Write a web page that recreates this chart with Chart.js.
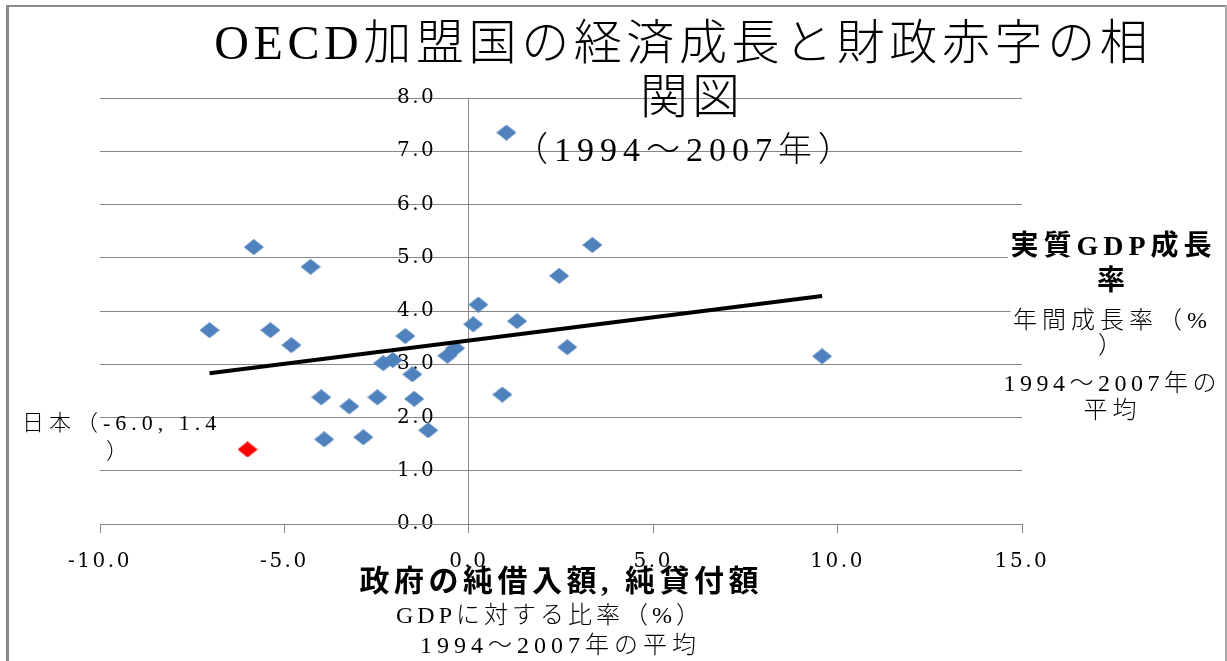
<!DOCTYPE html>
<html>
<head>
<meta charset="utf-8">
<script src="https://cdn.jsdelivr.net/npm/chart.js@4"></script>
<style>
  body { margin: 0; background: #fff; }
  #wrap { width: 1227px; height: 661px; }
</style>
</head>
<body>
<div id="wrap"><canvas id="myChart" width="1227" height="661"></canvas></div>
<script>
// government net lending (% of GDP) and real GDP growth, 1994-2007 averages
const govBalance = [-5.83, -4.29, -7.03, -5.38, -4.81, -4.00, -3.24, -2.48, -3.92, -2.86,
                    -1.72, -2.32, -2.06, -1.53, -1.48, -1.10, -0.58, -0.37, 0.12, 0.26,
                    1.02, 1.31, 0.91, 2.45, 2.67, 3.35, 9.58];
const gdpGrowth  = [5.20, 4.83, 3.64, 3.64, 3.36, 2.38, 2.21, 2.38, 1.59, 1.63,
                    3.53, 3.02, 3.08, 2.81, 2.35, 1.76, 3.16, 3.30, 3.75, 4.12,
                    7.35, 3.81, 2.43, 4.66, 3.32, 5.24, 3.15];
const japanBalance = [-6.0];
const japanGrowth = [1.4];
const trendX = [-7.03, 9.58];
const trendY = [2.83, 4.28];
const xTicks = [-10, -5, 0, 5, 10, 15];
const yTicks = [0, 1, 2, 3, 4, 5, 6, 7, 8];

const gridColor = '#878787';
const serif = '"DejaVu Serif", "Liberation Serif", "Noto Sans CJK JP"';
const jp = '"Liberation Serif", "Noto Sans CJK JP"';

makeDiamond = (color) => {
    let c = document.createElement('canvas');
    c.width = 20;
    c.height = 16;
    let g = c.getContext('2d');
    g.fillStyle = color;
    g.beginPath();
    g.moveTo(10, 0);
    g.lineTo(20, 8);
    g.lineTo(10, 16);
    g.lineTo(0, 8);
    g.closePath();
    g.fill();
    return c;
}

toPoints = (xs, ys) => xs.map((x, i) => ({x: x, y: ys[i]}));

drawText = (ctx, txt, x, y, size, spacing, opts) => {
    opts = opts || {};
    ctx.save();
    ctx.font = (opts.bold ? 'bold ' : '300 ') + size + 'px ' + jp;
    ctx.letterSpacing = spacing + 'px';
    ctx.textBaseline = 'middle';
    ctx.textAlign = opts.align || 'center';
    let w = ctx.measureText(txt).width;
    let left = ctx.textAlign === 'center' ? x - w / 2 : x;
    if (opts.bg) {
        ctx.fillStyle = '#fff';
        ctx.fillRect(left, y - size * 0.55, w, size * 1.1);
    }
    ctx.fillStyle = '#000';
    ctx.fillText(txt, ctx.textAlign === 'center' ? x + spacing / 2 : x, y);
    ctx.restore();
}

const textPlugin = {
    id: 'texts',
    beforeDraw(chart) {
        let ctx = chart.ctx;
        ctx.fillStyle = '#8a8a8a';
        ctx.fillRect(6, 5, 3, 661);
        ctx.fillRect(6, 5, 1221, 2);
        ctx.fillStyle = '#a8a8a8';
        ctx.fillRect(1225, 5, 2, 661);
        ctx.letterSpacing = '2.5px';
    },
    afterDraw(chart) {
        let ctx = chart.ctx;
        ctx.letterSpacing = '0px';
        // title
        drawText(ctx, 'OECD加盟国の経済成長と財政赤字の相', 681, 46, 48, 4.6);
        drawText(ctx, '関図', 690, 100, 48, 4);
        drawText(ctx, '（1994～2007年）', 683, 152, 34, 6);
        // y axis title
        drawText(ctx, '実質GDP成長', 1111, 248, 28, 5, {bold: true, bg: true});
        drawText(ctx, '率', 1111, 283, 28, 5, {bold: true, bg: true});
        drawText(ctx, '年間成長率（%', 1110, 322, 24, 5, {bg: true});
        drawText(ctx, '）', 1110, 347, 24, 5, {bg: true});
        drawText(ctx, '1994～2007年の', 1110, 385, 24, 4.5, {bg: true});
        drawText(ctx, '平均', 1110, 412, 24, 5, {bg: true});
        // x axis title
        drawText(ctx, '政府の純借入額, 純貸付額', 559, 583, 30, 4.5, {bold: true});
        drawText(ctx, 'GDPに対する比率（%）', 548, 617, 24, 4);
        drawText(ctx, '1994～2007年の平均', 558, 647, 24, 5);
        // Japan label
        drawText(ctx, '日本（-6.0, 1.4', 22, 424, 22, 5, {align: 'left'});
        drawText(ctx, '）', 106, 452, 22, 5, {align: 'left'});
    }
};

const tickFont = {family: serif, size: 20};

let ctx = document.getElementById('myChart').getContext('2d');
let myChart = new Chart(ctx, {
    type: 'scatter',
    data: {
        datasets: [{
            label: 'trend',
            data: toPoints(trendX, trendY),
            showLine: true,
            borderColor: '#000',
            borderWidth: 4,
            pointRadius: 0
        }, {
            label: '日本',
            data: toPoints(japanBalance, japanGrowth),
            pointStyle: makeDiamond('#ff0000'),
            pointRadius: 10
        }, {
            label: 'OECD',
            data: toPoints(govBalance, gdpGrowth),
            pointStyle: makeDiamond('#4f81bd'),
            pointRadius: 10
        }]
    },
    options: {
        responsive: false,
        animation: false,
        layout: {
            padding: {left: 100, right: 205, top: 98, bottom: 137}
        },
        plugins: {
            legend: { display: false },
            tooltip: { enabled: false }
        },
        scales: {
            y: {
                type: 'linear',
                min: yTicks[0],
                max: yTicks[yTicks.length - 1],
                position: {x: 0},
                afterBuildTicks: (scale) => { scale.ticks = yTicks.map(v => ({value: v})); },
                ticks: { display: false },
                grid: {
                    drawTicks: false,
                    color: gridColor
                },
                border: { color: gridColor }
            },
            // same scale again, only for the labels left of the y axis
            yLabels: {
                type: 'linear',
                axis: 'y',
                min: yTicks[0],
                max: yTicks[yTicks.length - 1],
                position: {x: -0.88},
                afterBuildTicks: (scale) => { scale.ticks = yTicks.map(v => ({value: v})); },
                ticks: {
                    callback: (v) => v.toFixed(1),
                    color: '#000',
                    font: tickFont
                },
                grid: { display: false },
                border: { display: false }
            },
            x: {
                type: 'linear',
                min: xTicks[0],
                max: xTicks[xTicks.length - 1],
                position: {y: 0},
                afterBuildTicks: (scale) => { scale.ticks = xTicks.map(v => ({value: v})); },
                ticks: {
                    callback: (v) => v.toFixed(1),
                    color: '#000',
                    font: tickFont,
                    padding: 18,
                    maxRotation: 0
                },
                grid: {
                    drawOnChartArea: false,
                    drawTicks: true,
                    tickLength: 8,
                    color: gridColor
                },
                border: { color: gridColor }
            }
        }
    },
    plugins: [textPlugin]
});
</script>
</body>
</html>
